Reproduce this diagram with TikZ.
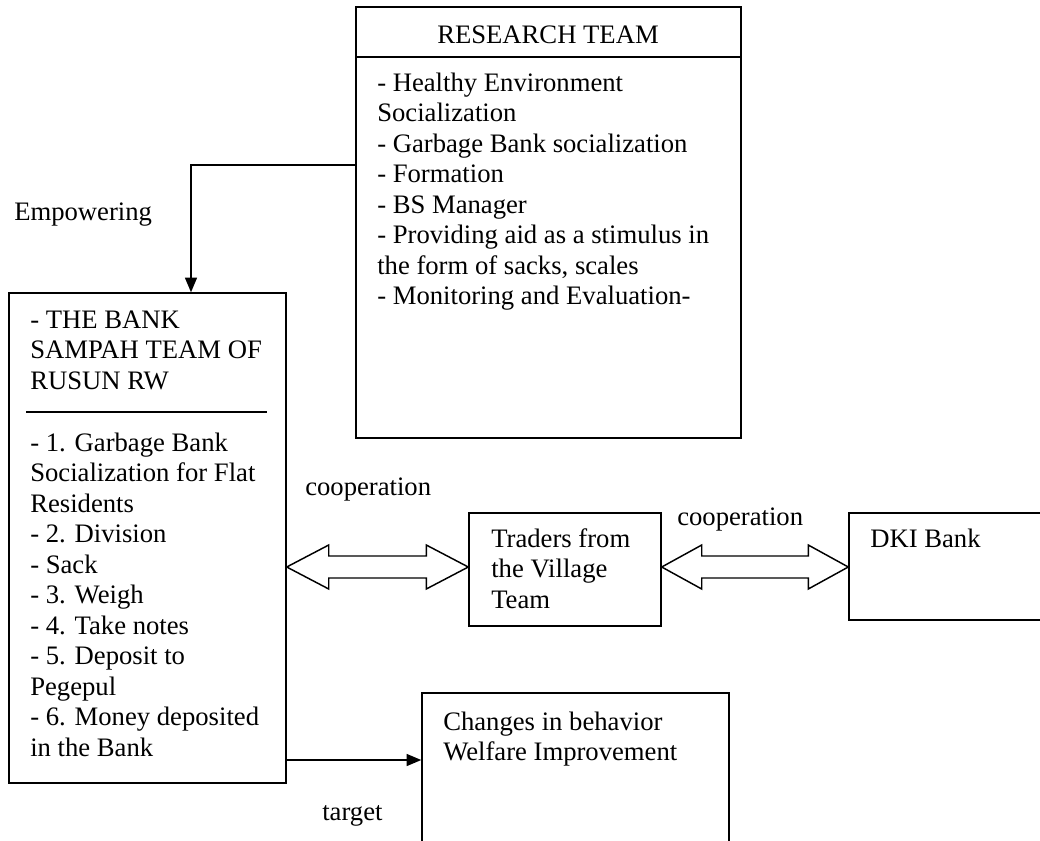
\documentclass[tikz,border=0pt]{standalone}
\usepackage{fontspec}
\setmainfont{Liberation Serif}
\usetikzlibrary{arrows.meta,calc,fit}
\newcommand\fs{\fontsize{20}{23}\selectfont}
\begin{document}
\begin{tikzpicture}[x=0.75pt,y=-0.75pt,
  box/.style={draw,line width=1.1pt,inner sep=0pt,rectangle},
  txt/.style={anchor=base west,inner sep=0pt,font=\fs},
  conn/.style={line width=1.1pt,-{Triangle[length=11pt,width=9pt]}},
  hollow/.style={draw,line width=1.1pt,line join=miter,fill=white}]
\clip (0,0) rectangle (1040,840);
\fill[white] (0,0) rectangle (1040,840);
% boxes
\node[box,fit={(356,7) (741,438)}] (research) {};
\node[box,fit={(9,293) (286,783)}] (left) {};
\node[box,fit={(469,513) (661,626)}] (traders) {};
\node[box,fit={(849,513) (1060,620)}] (dki) {};
\node[box,fit={(422,693) (729,870)}] (changes) {};
% research box
\draw[line width=1.1pt] (research.north west |- 0,57) -- (research.north east |- 0,57);
\node[anchor=base,inner sep=0pt,font=\fs] (rtitle) at (548,43) {RESEARCH TEAM};
\foreach \t [count=\i from 0] in {{- Healthy Environment},{Socialization},{- Garbage Bank socialization},{- Formation},{- BS Manager},{- Providing aid as a stimulus in},{the form of sacks, scales},{- Monitoring and Evaluation-}}
  \node[txt] (r\i) at (377,91+30.5*\i) {\t};
% left box
\foreach \t [count=\i from 0] in {{- THE BANK},{SAMPAH TEAM OF},{RUSUN RW}}
  \node[txt] (lh\i) at (30,328+30.5*\i) {\t};
\draw[line width=1.1pt] (26,412) -- (267,412);
\foreach \t [count=\i from 0] in {{- 1. Garbage Bank},{Socialization for Flat},{Residents},{- 2. Division},{- Sack},{- 3. Weigh},{- 4. Take notes},{- 5. Deposit to},{Pegepul},{- 6. Money deposited},{in the Bank}}
  \node[txt] (lb\i) at (30,451+30.5*\i) {\t};
% traders
\foreach \t [count=\i from 0] in {{Traders from},{the Village},{Team}}
  \node[txt] (t\i) at (491,547+30.5*\i) {\t};
% dki
\node[txt] (dkit) at (870,547) {DKI Bank};
% changes
\node[txt] (c0) at (443,730) {Changes in behavior};
\node[txt] (c1) at (443,760) {Welfare Improvement};
% labels
\node[txt] (emp) at (14,220) {Empowering};
\node[txt] (coop1) at (305,495) {cooperation};
\node[txt] (coop2) at (677,525) {cooperation};
\node[txt] (tgt) at (322,820) {target};
% connectors
\draw[conn] (research.west |- 0,165) -| (191,0 |- left.north);
\draw[conn] (left.east |- 0,760) -- (changes.west |- 0,760);
% double hollow arrows
\coordinate (a1) at (left.east |- 0,567);
\coordinate (b1) at (traders.west |- 0,567);
\coordinate (a2) at (traders.east |- 0,567);
\coordinate (b2) at (dki.west |- 0,567);
\draw[hollow] (a1) -- ++(42,-22) -- ++(0,11) -- ($(b1)+(-42,-11)$) -- ++(0,-11) -- (b1) -- ++(-42,22) -- ++(0,-11) -- ($(a1)+(42,11)$) -- ++(0,11) -- cycle;
\draw[hollow] (a2) -- ++(40,-22) -- ++(0,11) -- ($(b2)+(-40,-11)$) -- ++(0,-11) -- (b2) -- ++(-40,22) -- ++(0,-11) -- ($(a2)+(40,11)$) -- ++(0,11) -- cycle;
\end{tikzpicture}
\end{document}
